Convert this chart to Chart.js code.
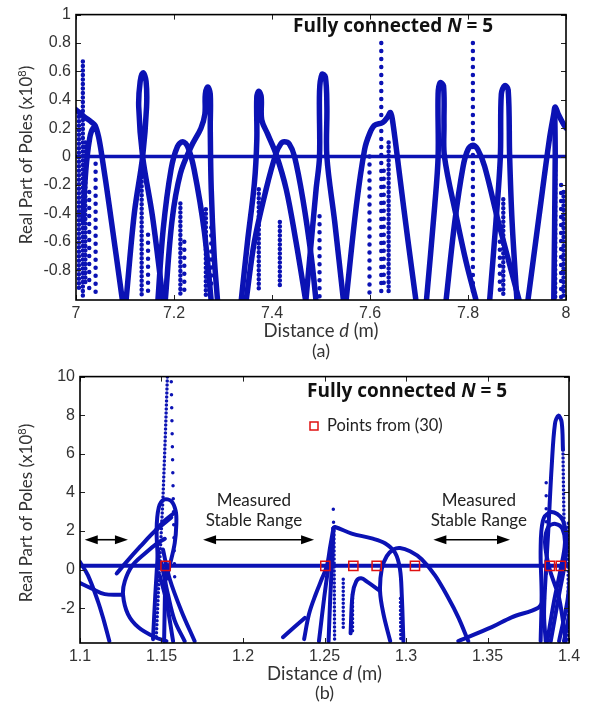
<!DOCTYPE html>
<html>
<head>
<meta charset="utf-8">
<script src="https://cdn.jsdelivr.net/npm/chart.js@4.4.1/dist/chart.umd.min.js"></script>
<style>
html, body { margin: 0; padding: 0; background: #fff; }
#wrap { position: relative; width: 592px; height: 704px; }
canvas { position: absolute; left: 0; }
#topChart { top: 0; }
#botChart { top: 362px; }
</style>
</head>
<body>
<div id="wrap">
  <canvas id="topChart" width="592" height="362"></canvas>
  <canvas id="botChart" width="592" height="342"></canvas>
</div>
<script>
// ---- (a) d = 7 .. 8 m : curves as [d, Re(pole) x1e8] ----
const topXTicks = [7, 7.2, 7.4, 7.6, 7.8, 8];
const topYTicks = [-0.8, -0.6, -0.4, -0.2, 0, 0.2, 0.4, 0.6, 0.8, 1];
const topZero = [[7, 0], [8, 0]];

const topPlateau = [[7.0, 0.33], [7.017, 0.28], [7.031, 0.245], [7.039, 0.22], [7.046, 0.14], [7.053, 0.0], [7.068, -0.35], [7.095, -1.02]];
const topArch0 = [[7.014, -0.45], [7.02, -0.1], [7.028, 0.13], [7.035, 0.2], [7.041, 0.19]];
const topLoop1 = [[7.102, -1.02], [7.119, -0.4], [7.136, 0.0], [7.144, 0.35], [7.143, 0.53], [7.137, 0.59], [7.131, 0.53], [7.128, 0.35], [7.136, 0.0], [7.156, -0.42], [7.178, -1.02]];
const topArch1 = [[7.167, -1.02], [7.178, -0.51], [7.194, -0.09], [7.207, 0.07], [7.218, 0.105], [7.228, 0.07], [7.241, -0.09], [7.262, -0.53], [7.276, -1.02]];
const topSpike1 = [[7.182, -1.02], [7.196, -0.45], [7.213, -0.12], [7.235, 0.07], [7.255, 0.2], [7.263, 0.3], [7.264, 0.44], [7.269, 0.49], [7.274, 0.44], [7.274, 0.2], [7.276, -0.23], [7.282, -0.7], [7.289, -1.02]];
const topSpike2 = [[7.337, -1.02], [7.35, -0.6], [7.364, -0.19], [7.369, 0.12], [7.369, 0.42], [7.373, 0.46], [7.378, 0.42], [7.379, 0.26], [7.391, 0.16], [7.408, 0.02], [7.429, -0.23], [7.449, -0.6], [7.469, -1.02]];
const topArch2 = [[7.347, -1.02], [7.364, -0.6], [7.388, -0.23], [7.408, 0.02], [7.418, 0.09], [7.425, 0.105], [7.435, 0.09], [7.446, 0.0], [7.463, -0.3], [7.48, -0.7], [7.49, -1.02]];
const topLoop2 = [[7.469, -1.02], [7.49, -0.23], [7.497, 0.0], [7.497, 0.46], [7.502, 0.58], [7.509, 0.56], [7.512, 0.35], [7.512, 0.0], [7.528, -0.46], [7.546, -1.02]];
const topShelf = [[7.551, -1.02], [7.572, -0.35], [7.589, 0.05], [7.599, 0.16], [7.609, 0.22], [7.626, 0.24], [7.636, 0.28], [7.642, 0.31], [7.647, 0.23], [7.66, -0.12], [7.677, -0.58], [7.694, -1.02]];
const topSpike3 = [[7.715, -1.02], [7.732, -0.35], [7.739, 0.0], [7.739, 0.44], [7.743, 0.52], [7.75, 0.5], [7.751, 0.23], [7.752, 0.0], [7.776, -0.42], [7.796, -0.74], [7.817, -1.02]];
const topArch3 = [[7.755, -1.02], [7.773, -0.46], [7.79, -0.07], [7.8, 0.05], [7.81, 0.08], [7.82, 0.05], [7.834, -0.07], [7.862, -0.46], [7.905, -1.02]];
const topSpike4 = [[7.844, -1.02], [7.857, -0.46], [7.866, 0.0], [7.868, 0.44], [7.875, 0.5], [7.882, 0.47], [7.885, 0.0], [7.89, -0.46], [7.9, -1.02]];
const topHook = [[7.922, -1.02], [7.945, -0.42], [7.966, 0.12], [7.975, 0.3], [7.978, 0.35], [7.984, 0.3], [7.993, 0.24], [8.0, 0.2]];
const topHookDrop = [[7.977, 0.33], [7.978, 0.0], [7.975, -1.02]];

// dotted columns: [d, top, bottom]
const topDenseCols = [[7.014, 0.67, -0.98], [7.006, 0.28, -0.95], [7.019, 0.1, -0.9], [7.134, -0.05, -0.99], [7.213, -0.33, -0.99], [7.265, -0.37, -0.99], [7.373, -0.23, -0.93], [7.416, -0.46, -0.93], [7.638, 0.1, -0.95], [7.872, -0.3, -0.99], [7.978, -0.1, -0.99], [7.995, -0.25, -0.99]];
const topSparseCols = [[7.027, -0.25, -0.98], [7.04, -0.05, -0.99], [7.147, -0.55, -0.95], [7.221, -0.6, -0.99], [7.276, -0.5, -0.9], [7.497, -0.42, -0.99], [7.599, 0.0, -0.99], [7.623, 0.8, -0.99], [7.628, -0.1, -0.9], [7.81, 0.8, -0.99], [7.99, -0.2, -0.99], [7.865, -0.6, -0.95]];

// ---- (b) d = 1.1 .. 1.4 m ----
const botXTicks = [1.1, 1.15, 1.2, 1.25, 1.3, 1.35, 1.4];
const botYTicks = [-2, 0, 2, 4, 6, 8, 10];
const botZero = [[1.1, 0.2], [1.4, 0.2]];
const eqPointsD = [1.1525, 1.2505, 1.2677, 1.282, 1.3055, 1.3883, 1.395];
const eqPointsRe = [0.2, 0.2, 0.2, 0.2, 0.2, 0.2, 0.2];

const botFall = [[1.1, 0.4], [1.1049, -0.3], [1.111, -1.64], [1.1145, -2.6], [1.118, -3.7]];
const botShelf = [[1.0988, -0.64], [1.107, -0.97], [1.1152, -1.27], [1.1264, -1.3]];
const botArc = [[1.153, -3.7], [1.146, -3.5], [1.136, -3.0], [1.1294, -2.3], [1.1264, -1.3], [1.1275, -0.6], [1.132, 0.2], [1.14, 0.85], [1.1475, 1.37], [1.152, 1.6]];
const botRise = [[1.1225, -0.2], [1.128, 0.35], [1.137, 1.2], [1.146, 2.0], [1.156, 2.7]];
const botLoop = [[1.1479, 0.37], [1.147, 2.04], [1.1483, 3.21], [1.1515, 3.63], [1.156, 3.55], [1.1587, 3.04], [1.1591, 2.37], [1.1581, 1.37], [1.155, 0.2], [1.153, -0.47]];
const botCross = [[1.1464, 2.04], [1.1519, 2.54], [1.1581, 2.96]];
const botFan1 = [[1.1509, 1.04], [1.155, -0.47], [1.1622, -2.14], [1.1703, -3.7]];
const botFan2 = [[1.1499, 0.37], [1.154, -1.3], [1.1581, -2.64], [1.1642, -3.7]];
const botFan3 = [[1.1489, -0.3], [1.153, -1.64], [1.1571, -3.7]];
const botFan4 = [[1.1479, 1.04], [1.1462, -1.3], [1.1448, -3.6]];
const botFan5 = [[1.1524, 0.03], [1.1516, -3.7]];
const botStub = [[1.2245, -3.5], [1.2379, -2.5]];
const botRise2 = [[1.2375, -3.6], [1.2405, -2.3], [1.2445, -1.3], [1.2485, -0.45], [1.2515, 0.2], [1.2535, 1.2], [1.2555, 2.15]];
const botDrop1 = [[1.2555, 2.15], [1.2545, 0.2], [1.2535, -1.5], [1.2525, -3.7]];
const botDrop2 = [[1.2548, 1.5], [1.2505, -1.0], [1.2466, -3.7]];
const botLong = [[1.2555, 2.15], [1.2564, 2.21], [1.2667, 1.87], [1.279, 1.62], [1.2871, 1.37], [1.2933, 0.87], [1.2963, 0.03], [1.2974, -1.3], [1.2984, -3.7]];
const botArch = [[1.2903, -3.7], [1.2862, -2.31], [1.2841, -1.14], [1.2851, 0.03], [1.2882, 0.7], [1.2923, 1.04], [1.2963, 1.12], [1.3025, 0.95], [1.3096, 0.54], [1.3178, -0.3], [1.326, -1.47], [1.3321, -2.47], [1.3382, -3.7]];
const botHook = [[1.266, -3.3], [1.2672, -1.3], [1.2695, -0.6], [1.2725, -0.45], [1.2765, -0.65], [1.284, -1.1]];
const botRamp = [[1.3321, -3.7], [1.3526, -2.98], [1.3648, -2.47], [1.3812, -1.97], [1.3847, -1.5]];
const botSpike = [[1.3857, -3.7], [1.3847, -2.31], [1.3857, -0.3], [1.3873, 2.04], [1.3894, 5.38], [1.3914, 7.56], [1.3935, 7.98], [1.3955, 7.64], [1.3963, 6.22]];
const botLoopA = [[1.3826, -3.7], [1.3832, -1.3], [1.3826, 1.04], [1.384, 2.54], [1.3881, 2.96], [1.3928, 2.88], [1.3963, 2.54], [1.3984, 1.71], [1.3975, 0.37], [1.3939, -1.3], [1.3888, -3.7]];
const botLoopB = [[1.398, -3.7], [1.3939, -1.47], [1.3881, 0.03], [1.3853, 1.37], [1.3873, 2.21], [1.3918, 2.37], [1.3959, 2.12], [1.3975, 1.37], [1.3949, 0.03], [1.3908, -1.64], [1.3867, -3.7]];
const botEdge1 = [[1.401, 0.03], [1.399, -1.64], [1.3939, -3.7]];
const botEdge2 = [[1.401, -2.0], [1.3969, -3.7]];

// dotted traces: lists of [d, Re]
const botDenseDots = [
  [[1.1536, 9.98], [1.1524, 7.06], [1.1509, 3.71], [1.1489, 0.37], [1.1468, -3.5]],
  [[1.2558, 2.0], [1.2562, -3.7]],
  [[1.2615, -0.5], [1.2615, -3.0]],
  [[1.2672, -1.3], [1.2672, -3.3]],
  [[1.2966, -1.5], [1.2968, -3.7]],
  [[1.3963, 6.2], [1.3967, 3.7], [1.3971, 1.7]],
  [[1.3995, 2.4], [1.3995, -3.7]]
];
const botSparseDots = [
  [[1.156, 9.73], [1.1571, 4.21], [1.1581, -0.47]],
  [[1.2554, 3.13], [1.2556, 2.2]],
  [[1.386, 4.5], [1.386, -0.5]]
];

const blue = '#0b12b4';

function fmt(v) { return String(Number(v.toFixed(2))); }

function curveSet(pts, w) {
  return {
    data: pts.map(p => ({ x: p[0], y: p[1] })),
    showLine: true, borderColor: blue, borderWidth: w, pointRadius: 0,
    tension: 0.35, clip: 0, borderCapStyle: 'round', borderJoinStyle: 'round'
  };
}
function dotSet(pts, gap, w) {
  return {
    data: pts.map(p => ({ x: p[0], y: p[1] })),
    showLine: true, borderColor: blue, borderWidth: w, pointRadius: 0,
    borderDash: [0, gap], borderCapStyle: 'round', tension: 0, clip: 0
  };
}
function lineSet(pts, w) {
  return {
    data: pts.map(p => ({ x: p[0], y: p[1] })),
    showLine: true, borderColor: blue, borderWidth: w, pointRadius: 0, tension: 0, clip: 0
  };
}

function axes(xr, yr, xt, yt, yw, xh) {
  const tickFont = { family: '"Liberation Sans", Arial, sans-serif', size: 16 };
  return {
    x: {
      type: 'linear', min: xr[0], max: xr[1],
      grid: { display: false, drawTicks: false }, border: { display: false },
      afterBuildTicks: s => { s.ticks = xt.map(v => ({ value: v })); },
      afterFit: s => { s.height = xh; },
      ticks: { font: tickFont, color: '#333', padding: 4, maxRotation: 0, autoSkip: false, callback: v => fmt(v) }
    },
    y: {
      type: 'linear', min: yr[0], max: yr[1],
      grid: { display: false, drawTicks: false }, border: { display: false },
      afterBuildTicks: s => { s.ticks = yt.map(v => ({ value: v })); },
      afterFit: s => { s.width = yw; },
      ticks: { font: tickFont, color: '#333', padding: 5, autoSkip: false, callback: v => fmt(v) }
    }
  };
}

// box with inward tick marks on all four sides (matlab style)
const frame = {
  id: 'frame',
  afterDraw(chart) {
    const { ctx, chartArea: a, scales: { x, y } } = chart;
    ctx.save();
    ctx.strokeStyle = '#222';
    ctx.lineWidth = 1;
    ctx.beginPath();
    x.ticks.forEach(t => {
      const p = Math.round(x.getPixelForValue(t.value)) + 0.5;
      ctx.moveTo(p, a.bottom); ctx.lineTo(p, a.bottom - 5);
      ctx.moveTo(p, a.top); ctx.lineTo(p, a.top + 5);
    });
    y.ticks.forEach(t => {
      const p = Math.round(y.getPixelForValue(t.value)) + 0.5;
      ctx.moveTo(a.left, p); ctx.lineTo(a.left + 5, p);
      ctx.moveTo(a.right, p); ctx.lineTo(a.right - 5, p);
    });
    ctx.stroke();
    ctx.strokeStyle = '#000';
    ctx.lineWidth = 1.6;
    ctx.strokeRect(a.left, a.top, a.right - a.left, a.bottom - a.top);
    ctx.restore();
  }
};

function runs(ctx, parts, x, y, align) {
  let w = 0;
  parts.forEach(p => { ctx.font = p.font; w += ctx.measureText(p.text).width; });
  let cx = align === 'center' ? x - w / 2 : x;
  parts.forEach(p => {
    ctx.font = p.font;
    ctx.fillText(p.text, cx, y + (p.dy || 0));
    cx += ctx.measureText(p.text).width;
  });
}

const F = 'Lato, "Open Sans", sans-serif';
const FB = '"Open Sans", Lato, sans-serif';

function labels(title, xCap, tagCap, tag, yMid) {
  return {
    id: 'labels',
    afterDraw(chart) {
      const { ctx, chartArea: a } = chart;
      ctx.save();
      ctx.textBaseline = 'alphabetic';
      ctx.fillStyle = '#333';
      const cx = (a.left + a.right) / 2;
      runs(ctx, [
        { text: 'Distance ', font: '18.5px ' + F },
        { text: 'd', font: 'italic 18.5px ' + F },
        { text: ' (m)', font: '18.5px ' + F }
      ], cx, xCap, 'center');
      runs(ctx, [{ text: tag, font: '18px ' + F }], cx, tagCap, 'center');
      ctx.translate(27, yMid);
      ctx.rotate(-Math.PI / 2);
      ctx.textBaseline = 'middle';
      runs(ctx, [
        { text: 'Real Part of Poles (x10', font: '17px ' + F },
        { text: '8', font: '11px ' + F, dy: -5 },
        { text: ')', font: '17px ' + F }
      ], 0, 0, 'center');
      ctx.setTransform(1, 0, 0, 1, 0, 0);
      ctx.textBaseline = 'alphabetic';
      ctx.fillStyle = '#111';
      runs(ctx, [
        { text: 'Fully connected ', font: 'bold 19px ' + FB },
        { text: 'N', font: 'italic bold 19px ' + FB },
        { text: ' = 5', font: 'bold 19px ' + FB }
      ], title[0], title[1], 'left');
      ctx.restore();
    }
  };
}

function drawArrow(ctx, x1, x2, y) {
  ctx.beginPath();
  ctx.moveTo(x1 + 8, y); ctx.lineTo(x2 - 8, y);
  ctx.stroke();
  [[x1, 1], [x2, -1]].forEach(([x, s]) => {
    ctx.beginPath();
    ctx.moveTo(x, y);
    ctx.lineTo(x + s * 13, y - 4.5);
    ctx.lineTo(x + s * 13, y + 4.5);
    ctx.closePath();
    ctx.fill();
  });
}

const notes = {
  id: 'notes',
  afterDraw(chart) {
    const { ctx, scales: { x, y } } = chart;
    ctx.save();
    ctx.fillStyle = '#000';
    ctx.strokeStyle = '#000';
    ctx.lineWidth = 1.6;
    const ay = y.getPixelForValue(1.55);
    drawArrow(ctx, x.getPixelForValue(1.1029), x.getPixelForValue(1.1294), ay);
    drawArrow(ctx, x.getPixelForValue(1.1755), x.getPixelForValue(1.2436), ay);
    drawArrow(ctx, x.getPixelForValue(1.3168), x.getPixelForValue(1.3638), ay);
    ctx.fillStyle = '#222';
    ctx.font = '17px ' + F;
    ctx.textAlign = 'center';
    ctx.textBaseline = 'middle';
    [1.2067, 1.3447].forEach(d => {
      ctx.fillText('Measured', x.getPixelForValue(d), y.getPixelForValue(3.58));
      ctx.fillText('Stable Range', x.getPixelForValue(d), y.getPixelForValue(2.54));
    });
    // legend
    ctx.strokeStyle = '#e01010';
    ctx.lineWidth = 1.5;
    ctx.strokeRect(310, 60, 8, 8);
    ctx.textAlign = 'left';
    ctx.fillStyle = '#222';
    ctx.font = '16.5px ' + F;
    ctx.fillText('Points from (30)', 327, 64);
    ctx.restore();
  }
};

const baseOpts = {
  responsive: false,
  animation: false,
  plugins: { legend: { display: false }, tooltip: { enabled: false } }
};

// ---- chart (a) ----
const topSets = [lineSet(topZero, 3.5)];
[topPlateau, topArch0, topLoop1, topArch1, topSpike1, topSpike2, topArch2, topLoop2,
 topShelf, topSpike3, topArch3, topSpike4, topHook, topHookDrop].forEach(c => topSets.push(curveSet(c, 5.5)));
topDenseCols.forEach(c => topSets.push(dotSet([[c[0], c[1]], [c[0], c[2]]], 4.5, 4.5)));
topSparseCols.forEach(c => topSets.push(dotSet([[c[0], c[1]], [c[0], c[2]]], 8, 4.5)));

new Chart(document.getElementById('topChart'), {
  type: 'scatter',
  data: { datasets: topSets },
  options: Object.assign({}, baseOpts, {
    layout: { padding: { top: 11, right: 26, left: 0, bottom: 0 } },
    scales: axes([7, 8], [-1.01, 1], topXTicks, topYTicks, 76, 62)
  }),
  plugins: [frame, labels([293, 32], 337, 357, '(a)', 155)]
});

// ---- chart (b) ----
const botSets = [{
  data: eqPointsD.map((d, i) => ({ x: d, y: eqPointsRe[i] })),
  showLine: false, pointStyle: 'rect', pointRadius: 6.5, pointBorderWidth: 1.5,
  pointBorderColor: '#e01010', pointBackgroundColor: 'rgba(0,0,0,0)', clip: 0
}, lineSet(botZero, 4)];
[botFall, botShelf, botArc, botRise, botLoop, botCross, botFan1, botFan2, botFan3, botFan4, botFan5,
 botStub, botRise2, botDrop1, botDrop2, botLong, botArch, botHook, botRamp, botSpike,
 botLoopA, botLoopB, botEdge1, botEdge2].forEach(c => botSets.push(curveSet(c, 4)));
botDenseDots.forEach(c => botSets.push(dotSet(c, 4, 3.5)));
botSparseDots.forEach(c => botSets.push(dotSet(c, 13, 3.5)));

new Chart(document.getElementById('botChart'), {
  type: 'scatter',
  data: { datasets: botSets },
  options: Object.assign({}, baseOpts, {
    layout: { padding: { top: 6, right: 23, left: 0, bottom: 0 } },
    scales: axes([1.1, 1.4], [-3.8, 10], botXTicks, botYTicks, 80, 61)
  }),
  plugins: [frame, notes, labels([307, 35], 318, 337, '(b)', 151)]
});
</script>
</body>
</html>
